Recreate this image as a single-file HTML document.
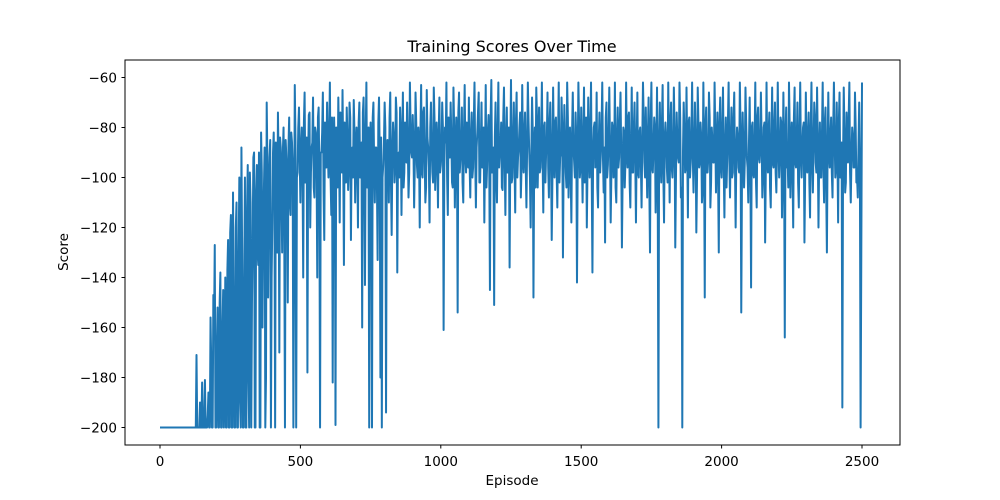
<!DOCTYPE html>
<html><head><meta charset="utf-8"><style>
html,body{margin:0;padding:0;background:#fff;}
svg{display:block;font-family:"DejaVu Sans","Liberation Sans",sans-serif;}
</style></head><body>
<svg id="chart" width="1000" height="500">
<rect x="0" y="0" width="1000" height="500" fill="#fff"/>
<text x="512" y="52" font-size="16" text-anchor="middle" fill="#000">Training Scores Over Time</text>
<text x="512" y="485" font-size="13.5" text-anchor="middle" fill="#000">Episode</text>
<text x="68" y="252" font-size="13.5" text-anchor="middle" fill="#000" transform="rotate(-90 68 252)">Score</text>
<g id="plot"></g>
<g id="xticks"></g>
<g id="yticks"></g>
<rect x="125" y="60" width="775" height="385" fill="none" stroke="#000" stroke-width="1"/>
</svg>
<script>
const xTicks = [0, 500, 1000, 1500, 2000, 2500];
const yTicks = [-60, -80, -100, -120, -140, -160, -180, -200];
const episodeStep = 5;
// scores at episodes 0,5,10,...
const scores = [
-200,-200,-200,-200,-200,-200,-200,-200,-200,-200,-200,-200,-200,-200,-200,-200,-200,-200,-200,-200,
-200,-200,-200,-200,-200,-200,-171,-200,-200,-200,-182,-200,-181,-200,-195,-200,-156,-200,-147,-127,
-200,-152,-200,-138,-200,-145,-178,-200,-137,-200,-122,-200,-106,-200,-120,-200,-132,-190,-88,-200,
-140,-200,-112,-180,-98,-200,-125,-90,-200,-95,-135,-200,-82,-160,-105,-200,-70,-148,-92,-200,
-118,-82,-200,-95,-74,-170,-88,-130,-80,-200,-92,-150,-76,-115,-86,-200,-63,-200,-98,-72,
-110,-80,-140,-66,-95,-178,-75,-120,-88,-68,-108,-82,-140,-72,-200,-90,-66,-125,-85,-70,
-100,-62,-115,-182,-76,-199,-90,-68,-118,-80,-65,-135,-85,-72,-105,-70,-125,-88,-69,-110,
-80,-120,-70,-95,-160,-68,-143,-62,-100,-200,-78,-200,-70,-110,-88,-133,-68,-180,-200,-95,
-70,-194,-85,-110,-66,-123,-78,-102,-68,-138,-90,-72,-115,-66,-98,-84,-70,-108,-62,-90,
-75,-112,-66,-95,-80,-120,-63,-100,-72,-110,-65,-88,-118,-70,-98,-64,-105,-78,-112,-68,
-95,-70,-161,-80,-62,-115,-88,-70,-102,-64,-112,-76,-154,-66,-92,-72,-110,-63,-98,-80,
-68,-108,-74,-96,-62,-112,-82,-66,-102,-70,-88,-118,-63,-95,-75,-145,-61,-98,-151,-70,
-110,-62,-90,-78,-105,-64,-115,-72,-88,-136,-61,-100,-70,-114,-66,-92,-80,-108,-63,-98,
-74,-112,-62,-90,-120,-68,-148,-80,-64,-104,-72,-96,-62,-114,-78,-90,-66,-108,-70,-125,
-64,-100,-76,-112,-62,-92,-68,-132,-71,-98,-62,-108,-80,-118,-66,-94,-74,-142,-62,-100,
-72,-110,-64,-90,-120,-68,-100,-62,-138,-80,-96,-66,-112,-74,-90,-62,-106,-126,-70,-95,
-64,-118,-78,-100,-62,-110,-72,-92,-66,-128,-80,-104,-62,-96,-74,-112,-64,-98,-70,-118,
-66,-100,-80,-112,-62,-94,-72,-108,-68,-130,-62,-98,-76,-114,-64,-200,-70,-102,-63,-118,
-78,-96,-62,-110,-70,-100,-64,-128,-74,-92,-62,-108,-200,-70,-98,-64,-116,-76,-94,-62,
-106,-70,-122,-64,-96,-78,-110,-62,-148,-72,-98,-66,-112,-80,-94,-62,-106,-74,-130,-68,
-100,-64,-116,-76,-92,-62,-108,-72,-98,-66,-120,-80,-96,-62,-154,-74,-104,-64,-92,-110,
-68,-144,-78,-100,-62,-112,-72,-94,-66,-108,-80,-126,-62,-98,-74,-112,-64,-96,-70,-106,
-62,-100,-76,-116,-66,-164,-72,-92,-62,-108,-78,-120,-64,-96,-70,-112,-62,-100,-80,-126,
-66,-98,-74,-116,-62,-106,-70,-94,-64,-120,-78,-100,-62,-110,-72,-130,-66,-96,-76,-108,
-62,-100,-70,-118,-66,-96,-192,-64,-106,-74,-94,-62,-110,-80,-96,-66,-102,-108,-70,-200
];
// scores at in-between episodes 2.5,7.5,12.5,...
const midScores = [
-200,-200,-200,-200,-200,-200,-200,-200,-200,-200,-200,-200,-200,-200,-200,-200,-200,-200,-200,-200,
-200,-200,-200,-200,-200,-200,-200,-200,-190,-200,-200,-200,-200,-200,-186,-200,-175,-200,-160,-200,
-170,-200,-150,-200,-160,-200,-140,-200,-125,-200,-115,-200,-150,-200,-110,-200,-100,-200,-130,-200,
-100,-200,-95,-200,-110,-150,-92,-200,-105,-130,-90,-200,-98,-120,-88,-180,-95,-110,-85,-140,
-90,-110,-86,-130,-95,-84,-105,-90,-120,-85,-100,-88,-110,-82,-95,-130,-86,-100,-80,-92,
-88,-96,-78,-102,-84,-92,-74,-98,-86,-104,-80,-94,-76,-100,-90,-82,-106,-78,-96,-88,
-84,-100,-76,-94,-90,-80,-104,-86,-74,-98,-92,-78,-102,-84,-96,-76,-90,-100,-82,-94,
-92,-78,-100,-86,-74,-96,-84,-104,-80,-90,-98,-76,-94,-88,-102,-78,-92,-84,-100,-86,
-80,-98,-88,-76,-102,-90,-84,-96,-74,-92,-100,-82,-88,-104,-78,-94,-86,-98,-80,-92,
-86,-94,-78,-100,-90,-82,-98,-74,-92,-104,-84,-96,-80,-88,-102,-76,-94,-90,-82,-98,
-90,-80,-96,-86,-100,-76,-92,-84,-104,-80,-94,-88,-74,-98,-86,-102,-82,-92,-78,-96,
-94,-84,-100,-78,-92,-88,-74,-102,-86,-96,-80,-90,-104,-82,-94,-76,-98,-88,-84,-100,
-82,-96,-88,-104,-76,-92,-86,-98,-80,-90,-102,-84,-94,-78,-100,-88,-74,-96,-90,-82,
-96,-86,-78,-100,-90,-82,-94,-104,-76,-88,-98,-84,-92,-80,-102,-86,-96,-78,-90,-100,
-88,-78,-98,-84,-102,-90,-80,-94,-86,-104,-76,-92,-98,-82,-88,-100,-84,-94,-78,-96,
-92,-84,-102,-76,-96,-88,-82,-100,-90,-78,-94,-104,-86,-98,-80,-92,-88,-76,-100,-84,
-86,-98,-80,-92,-104,-84,-96,-78,-90,-100,-82,-94,-88,-76,-102,-86,-98,-80,-92,-88,
-98,-82,-94,-86,-76,-100,-90,-84,-102,-78,-96,-88,-80,-94,-104,-86,-92,-78,-98,-84,
-84,-102,-88,-78,-96,-90,-82,-100,-86,-94,-76,-104,-90,-82,-96,-88,-78,-100,-84,-92,
-90,-86,-100,-78,-94,-84,-104,-88,-80,-98,-92,-76,-102,-86,-94,-82,-90,-100,-78,-96,
-82,-96,-88,-104,-78,-92,-86,-100,-76,-94,-90,-84,-98,-80,-102,-88,-94,-78,-96,-86,
-94,-80,-98,-86,-102,-76,-92,-88,-84,-100,-78,-96,-90,-82,-104,-86,-94,-80,-98,-88,
-86,-92,-78,-100,-88,-84,-96,-104,-80,-90,-98,-76,-94,-86,-102,-82,-92,-88,-78,-100,
-90,-84,-102,-80,-94,-88,-76,-98,-86,-92,-100,-82,-96,-78,-104,-88,-90,-84,-98,-80,
-84,-96,-90,-78,-100,-86,-94,-82,-102,-88,-76,-98,-92,-84,-96,-80,-100,-88,-94,-130
];
const finalScore = -62;
const NS = "http://www.w3.org/2000/svg";
const xScale = v => 160 + v * (702 / 2500);
const yScale = v => 77.5 + (-60 - v) * 2.5;
const plot = document.getElementById('plot');
let d = '';
scores.forEach((s, i) => {
  d += (i ? 'L' : 'M') + xScale(i * episodeStep).toFixed(2) + ' ' + yScale(s).toFixed(2);
  d += 'L' + xScale(i * episodeStep + episodeStep / 2).toFixed(2) + ' ' + yScale(midScores[i]).toFixed(2);
});
d += 'L' + xScale(scores.length * episodeStep).toFixed(2) + ' ' + yScale(finalScore).toFixed(2);
const path = document.createElementNS(NS, 'path');
path.setAttribute('d', d);
path.setAttribute('fill', 'none');
path.setAttribute('stroke', '#1f77b4');
path.setAttribute('stroke-width', '2');
path.setAttribute('stroke-linejoin', 'round');


plot.appendChild(path);
const xg = document.getElementById('xticks');
xTicks.forEach(t => {
  const x = xScale(t);
  const l = document.createElementNS(NS, 'line');
  l.setAttribute('x1', x); l.setAttribute('x2', x); l.setAttribute('y1', 445); l.setAttribute('y2', 448.5);
  l.setAttribute('stroke', '#000');
  
  
  xg.appendChild(l);
  const tx = document.createElementNS(NS, 'text');
  tx.setAttribute('x', x); tx.setAttribute('y', 466); tx.setAttribute('font-size', '13.5'); tx.setAttribute('text-anchor', 'middle');
  tx.textContent = t;
  
  
  xg.appendChild(tx);
});
const yg = document.getElementById('yticks');
yTicks.forEach(t => {
  const y = yScale(t);
  const l = document.createElementNS(NS, 'line');
  l.setAttribute('x1', 121.5); l.setAttribute('x2', 125); l.setAttribute('y1', y); l.setAttribute('y2', y);
  l.setAttribute('stroke', '#000');
  
  
  yg.appendChild(l);
  const tx = document.createElementNS(NS, 'text');
  tx.setAttribute('x', 117); tx.setAttribute('y', y + 5); tx.setAttribute('font-size', '13.5'); tx.setAttribute('text-anchor', 'end');
  tx.textContent = '\u2212' + Math.abs(t);
  
  
  yg.appendChild(tx);
});
</script>
</body></html>
